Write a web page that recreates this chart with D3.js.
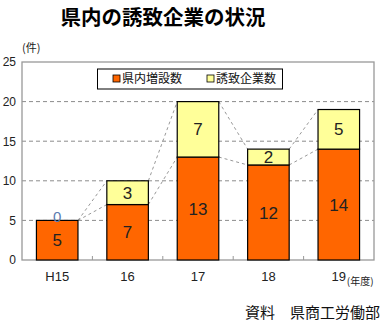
<!DOCTYPE html>
<html>
<head>
<meta charset="utf-8">
<script src="https://cdn.jsdelivr.net/npm/d3@7"></script>
<style>
  html, body { margin: 0; padding: 0; background: #fff; }
  svg { display: block; }
</style>
</head>
<body>
<div id="chart"></div>
<script>
// 県内の誘致企業の状況 — stacked bars per fiscal year
const years = ["H15", "16", "17", "18", "19"];
const expansions = [5, 7, 13, 12, 14];   // 県内増設数
const attracted = [0, 3, 7, 2, 5];      // 誘致企業数
const seriesNames = ["県内増設数", "誘致企業数"];
const yTicks = [0, 5, 10, 15, 20, 25];

const W = 387, H = 323;
const m = { left: 22, right: 13, top: 62, bottom: 63 };
const colors = ["#ff6600", "#ffff99"];
const numFont = "'Liberation Sans', Arial, sans-serif";
const jpFont = "'Noto Sans CJK JP', sans-serif";

const svg = d3.select("#chart").append("svg").attr("width", W).attr("height", H);

const x = d3.scaleBand().domain(years).range([m.left, W - m.right]).paddingInner(0.41).paddingOuter(0.205);
const y = d3.scaleLinear().domain([0, 25]).range([H - m.bottom, m.top]);

// title
svg.append("text").attr("x", 163).attr("y", 25).attr("text-anchor", "middle")
  .attr("font-family", jpFont).attr("font-weight", "bold").attr("font-size", 20.5)
  .attr("fill", "#000").text("県内の誘致企業の状況");

// gridlines
svg.append("g").selectAll("line").data(yTicks.filter(t => t > 0 && t < 25)).join("line")
  .attr("x1", m.left).attr("x2", W - m.right)
  .attr("y1", d => y(d)).attr("y2", d => y(d))
  .attr("stroke", "#8c8c8c").attr("stroke-dasharray", "4,3").attr("stroke-width", 1);

// plot frame
svg.append("rect").attr("x", m.left).attr("y", y(25)).attr("width", W - m.right - m.left)
  .attr("height", y(0) - y(25)).attr("fill", "none").attr("stroke", "#999").attr("stroke-width", 1.3);

// y axis labels
const yAxis = d3.axisLeft(y).tickValues(yTicks).tickSize(0).tickPadding(6);
const gy = svg.append("g").attr("transform", `translate(${m.left},0)`).call(yAxis);
gy.select(".domain").remove();
gy.selectAll("text").attr("font-family", numFont).attr("font-size", 12).attr("fill", "#222");

svg.append("text").attr("x", 22).attr("y", 52).attr("font-family", jpFont).attr("font-size", 11)
  .attr("fill", "#222").text("(件)");

// x axis: small interior ticks at category boundaries
const bounds = years.slice(1).map(d => x(d) - x.step() * x.paddingInner() / 2);
svg.append("g").selectAll("line").data(bounds).join("line")
  .attr("x1", d => d).attr("x2", d => d).attr("y1", y(0)).attr("y2", y(0) - 4)
  .attr("stroke", "#999");

const xAxis = d3.axisBottom(x).tickSize(0).tickPadding(12);
const gx = svg.append("g").attr("transform", `translate(0,${y(0)})`).call(xAxis);
gx.select(".domain").remove();
gx.selectAll("text").attr("font-family", numFont).attr("font-size", 13).attr("fill", "#222");
svg.append("text").attr("x", x("19") + x.bandwidth() / 2 + 8).attr("y", 285)
  .attr("font-family", jpFont).attr("font-size", 10).attr("fill", "#222").text("(年度)");

// stacked data
const rows = years.map((yr, i) => ({ year: yr, a: expansions[i], b: attracted[i] }));
const stack = d3.stack().keys(["a", "b"])(rows);

// connector lines between adjacent bars
const conn = svg.append("g").attr("stroke", "#999").attr("stroke-dasharray", "3,3").attr("fill", "none");
stack.forEach(layer => {
  for (let i = 0; i < years.length - 1; i++) {
    conn.append("line")
      .attr("x1", x(years[i]) + x.bandwidth()).attr("y1", y(layer[i][1]))
      .attr("x2", x(years[i + 1])).attr("y2", y(layer[i + 1][1]));
  }
});

// bars
stack.forEach((layer, k) => {
  svg.append("g").selectAll("rect").data(layer).join("rect")
    .attr("x", d => x(d.data.year)).attr("width", x.bandwidth())
    .attr("y", d => y(d[1])).attr("height", d => y(d[0]) - y(d[1]))
    .attr("fill", colors[k]).attr("stroke", "#000").attr("stroke-width", 1.2);
});

// value labels
stack.forEach(layer => {
  svg.append("g").selectAll("text").data(layer).join("text")
    .attr("x", d => x(d.data.year) + x.bandwidth() / 2)
    .attr("y", d => d[1] === d[0] ? y(d[1]) - 4 : (y(d[0]) + y(d[1])) / 2)
    .attr("dy", "0.36em").attr("text-anchor", "middle")
    .attr("font-family", numFont).attr("font-size", d => d[1] === d[0] ? 15 : 17)
    .attr("fill", d => d[1] === d[0] ? "#5a7bb0" : "#222")
    .text(d => d[1] - d[0]);
});

// legend
const lg = svg.append("g");
lg.append("rect").attr("x", 97.5).attr("y", 69).attr("width", 185).attr("height", 20)
  .attr("fill", "#fff").attr("stroke", "#000").attr("stroke-width", 1);
const lx = [113, 207];
seriesNames.forEach((name, k) => {
  lg.append("rect").attr("x", lx[k]).attr("y", 75).attr("width", 7).attr("height", 7)
    .attr("fill", colors[k]).attr("stroke", "#000").attr("stroke-width", 0.8);
  lg.append("text").attr("x", lx[k] + 9).attr("y", 83).attr("font-family", jpFont)
    .attr("font-size", 12).attr("fill", "#111").text(name);
});

// source
svg.append("text").attr("x", 380).attr("y", 318).attr("text-anchor", "end")
  .attr("font-family", jpFont).attr("font-size", 15).attr("fill", "#111").text("資料　県商工労働部");
</script>
</body>
</html>
